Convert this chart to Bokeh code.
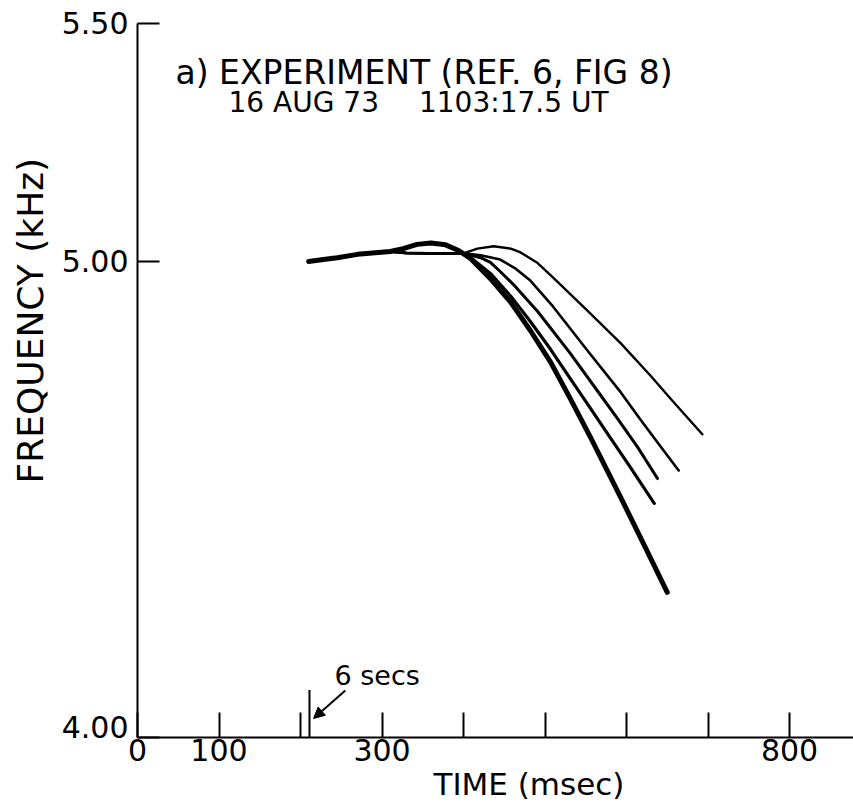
from bokeh.plotting import figure
from bokeh.models import Range1d, FixedTicker, Label, Arrow, NormalHead, NumeralTickFormatter, Title
from bokeh.embed import file_html
from bokeh.resources import INLINE

# ---- data (time in msec, frequency in kHz) ----
common_t = [210, 228, 245, 270, 310]
common_f = [5.000, 5.004, 5.008, 5.015, 5.021]

bump_t = [326, 343, 360, 378, 394]
bump_f = [5.027, 5.036, 5.039, 5.035, 5.023]

flat_t = [330, 360, 400]
flat_f = [5.018, 5.017, 5.017]

a_t = [409, 433, 458, 482, 507, 531, 556, 593, 622, 650]
a_f = [5.006, 4.964, 4.914, 4.855, 4.788, 4.712, 4.630, 4.504, 4.403, 4.305]

b_t = [409, 433, 458, 482, 507, 531, 556, 580, 605, 634]
b_f = [5.008, 4.975, 4.927, 4.874, 4.815, 4.754, 4.691, 4.630, 4.567, 4.492]

c_t = [421, 433, 445, 461, 491, 531, 564, 589, 614, 638]
c_f = [5.008, 4.998, 4.979, 4.952, 4.895, 4.807, 4.729, 4.670, 4.609, 4.544]

d_t = [421, 445, 464, 482, 510, 552, 593, 617, 642, 664]
d_f = [5.013, 5.004, 4.985, 4.960, 4.905, 4.813, 4.725, 4.668, 4.611, 4.561]

e_t = [417, 437, 458, 470, 490, 510, 552, 593, 629, 656, 693]
e_f = [5.027, 5.032, 5.027, 5.019, 4.998, 4.966, 4.897, 4.828, 4.761, 4.708, 4.637]

x_ticks = [0, 100, 200, 300, 400, 500, 600, 700, 800]
x_tick_labels = {0: "0", 100: "100", 200: "", 300: "300", 400: "", 500: "", 600: "", 700: "", 800: "800"}
y_ticks = [4.0, 5.0, 5.5]
y_tick_labels = {4.0: "4.00\n", 5.0: "5.00", 5.5: "5.50"}

marker_t = 211          # "6 secs" marker
marker_top = 4.10

title_1 = "a) EXPERIMENT (REF. 6, FIG 8)"
title_2a = "16 AUG 73"
title_2b = "1103:17.5 UT"
x_label = "TIME (msec)"
y_label = "FREQUENCY (kHz)"
marker_label = "6 secs"

FONT = "DejaVu Sans"

p = figure(frame_width=716, frame_height=714, output_backend="svg", toolbar_location=None,
           x_range=Range1d(0, 878.5), y_range=Range1d(4.0, 5.5),
           min_border_left=137, min_border_right=0, min_border_top=23, min_border_bottom=0)
p.outline_line_color = None
p.grid.visible = False
p.background_fill_color = "white"
p.border_fill_color = "white"

for ax in (p.xaxis[0], p.yaxis[0]):
    ax.axis_line_width = 2
    ax.axis_line_color = "black"
    ax.major_tick_line_width = 2
    ax.major_tick_line_color = "black"
    ax.minor_tick_line_color = None
    ax.major_tick_out = 0
    ax.major_label_text_font = FONT
    ax.major_label_text_font_size = "30px"
    ax.major_label_text_color = "black"
    ax.major_label_text_font_style = "normal"

p.xaxis.ticker = FixedTicker(ticks=x_ticks)
p.xaxis.major_label_overrides = x_tick_labels
p.xaxis.major_tick_in = 25
p.xaxis.major_label_standoff = 1

p.yaxis.ticker = FixedTicker(ticks=y_ticks)
p.yaxis.formatter = NumeralTickFormatter(format="0.00")
p.yaxis.major_label_overrides = y_tick_labels
p.yaxis.major_label_text_line_height = 0.6
p.yaxis.major_tick_in = 22
p.yaxis.major_label_standoff = 9

# axis titles as side panels, placed off-centre like the original lettering
p.add_layout(Title(text=x_label, align="left", offset=296, standoff=0,
                   text_font=FONT, text_font_size="31px", text_font_style="normal",
                   text_color="black"), "below")
p.add_layout(Title(text=y_label, align="left", offset=254, standoff=15,
                   text_font=FONT, text_font_size="36px", text_font_style="normal",
                   text_color="black"), "left")

def path(*parts):
    t, f = [], []
    for pt, pf in parts:
        t += pt
        f += pf
    return t, f

curves = [
    (path((common_t, common_f), (flat_t, flat_f), (e_t, e_f)), 2.4),
    (path((common_t, common_f), (flat_t, flat_f), (d_t, d_f)), 2.6),
    (path((common_t, common_f), (flat_t, flat_f), (c_t, c_f)), 3.0),
    (path((common_t, common_f), (bump_t, bump_f), (b_t, b_f)), 3.2),
    (path((common_t, common_f), (bump_t, bump_f), (a_t, a_f)), 5.0),
]
for (t, f), w in curves:
    p.line(t, f, line_color="black", line_width=w, line_join="round", line_cap="round")

# "6 secs" marker tick and arrow
p.segment(x0=[marker_t], y0=[4.0], x1=[marker_t], y1=[marker_top], line_color="black", line_width=2)
p.add_layout(Arrow(end=NormalHead(size=11, fill_color="black", line_color="black"),
                   x_start=255, y_start=4.099, x_end=216, y_end=4.040,
                   line_color="black", line_width=2))

def lab(x, y, text, size, align="left", angle=0.0):
    return Label(x=x, y=y, text=text, text_font=FONT, text_font_size=size,
                 text_align=align, text_baseline="middle", angle=angle, text_color="black")

p.add_layout(lab(294, 4.130, marker_label, "27px", "center"))

# titles
p.add_layout(lab(46.6, 5.397, title_1, "33px"))
p.add_layout(lab(111.7, 5.334, title_2a, "28px"))
p.add_layout(lab(577.9, 5.334, title_2b, "28px", "right"))

open("out.html", "w").write(file_html(p, INLINE))
